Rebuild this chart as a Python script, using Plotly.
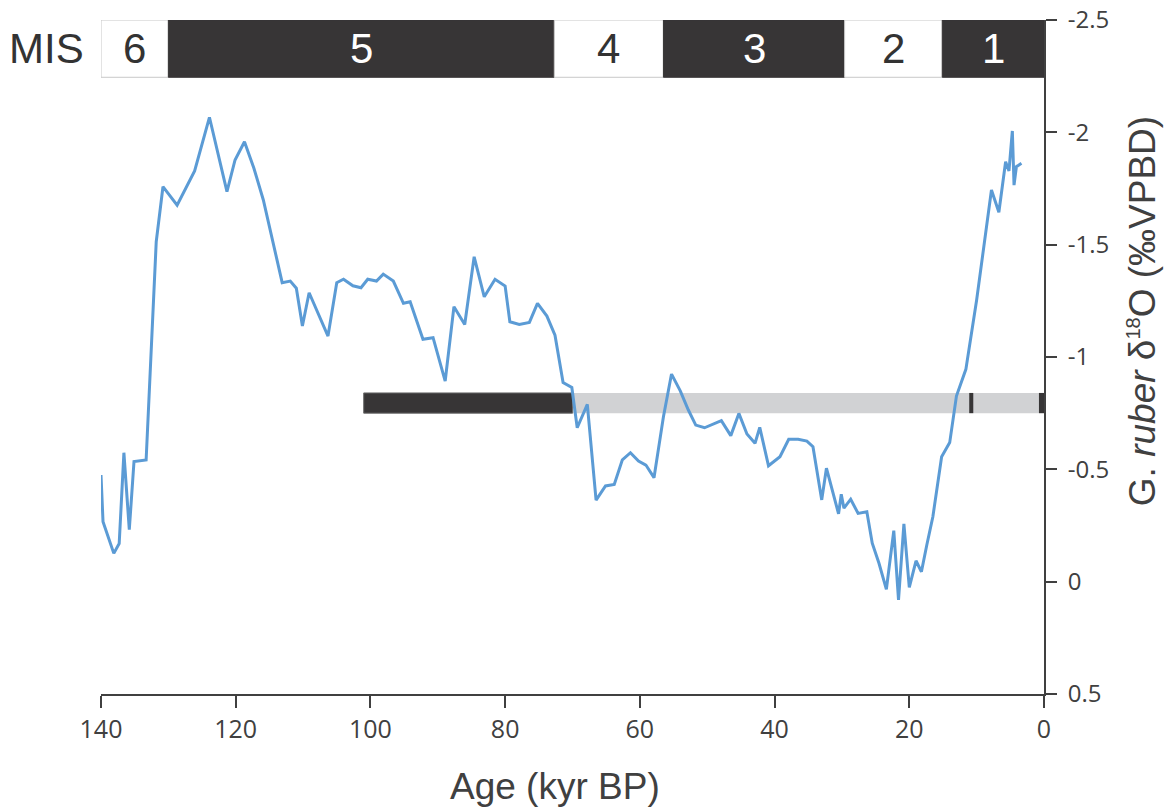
import plotly.graph_objects as go

# G. ruber d18O record (age in kyr BP, d18O in permil VPDB)
age_kyr = [140.0, 139.7, 138.1, 137.3, 136.6, 135.8, 135.1, 133.3, 131.8, 130.8,
           128.7, 126.1, 123.9, 121.3, 120.1, 118.7, 117.3, 115.9, 113.1, 111.9,
           111.0, 110.1, 109.1, 106.3, 105.0, 104.0, 102.6, 101.4, 100.4, 99.1,
           98.1, 96.6, 95.1, 94.1, 92.2, 90.7, 88.9, 87.6, 86.0, 84.6,
           83.1, 81.5, 80.0, 79.3, 77.9, 76.4, 75.2, 73.8, 72.6, 71.4,
           70.1, 69.3, 67.8, 66.5, 65.1, 63.8, 62.6, 61.4, 60.2, 59.1,
           57.9, 56.5, 55.3, 54.0, 52.8, 51.7, 50.4, 47.9, 46.5, 45.3,
           44.1, 42.9, 42.2, 40.9, 39.2, 37.9, 36.5, 35.2, 34.3, 33.0,
           32.3, 30.5, 30.1, 29.7, 28.7, 27.6, 26.3, 25.5, 24.5, 23.4,
           22.3, 21.6, 20.8, 20.0, 19.0, 18.2, 17.4, 16.5, 15.2, 14.0,
           13.0, 11.6, 10.0, 9.0, 7.8, 6.7, 5.7, 5.2, 4.7, 4.45,
           4.1, 3.35]
d18o = [-0.475, -0.267, -0.126, -0.170, -0.574, -0.231, -0.535, -0.542, -1.513, -1.758,
        -1.676, -1.828, -2.067, -1.736, -1.877, -1.958, -1.840, -1.699, -1.331, -1.338,
        -1.306, -1.138, -1.286, -1.093, -1.331, -1.346, -1.317, -1.308, -1.346, -1.338,
        -1.369, -1.338, -1.239, -1.246, -1.079, -1.086, -0.893, -1.224, -1.145, -1.446,
        -1.268, -1.346, -1.316, -1.157, -1.145, -1.154, -1.239, -1.182, -1.097, -0.886,
        -0.864, -0.685, -0.789, -0.363, -0.426, -0.433, -0.542, -0.574, -0.537, -0.519,
        -0.463, -0.734, -0.924, -0.849, -0.764, -0.697, -0.685, -0.717, -0.650, -0.749,
        -0.657, -0.616, -0.687, -0.516, -0.556, -0.634, -0.634, -0.626, -0.601, -0.364,
        -0.505, -0.302, -0.389, -0.327, -0.367, -0.304, -0.311, -0.171, -0.082, 0.034,
        -0.227, 0.081, -0.257, 0.025, -0.093, -0.044, -0.163, -0.289, -0.556, -0.619,
        -0.826, -0.945, -1.254, -1.476, -1.743, -1.644, -1.869, -1.828, -2.006, -1.765,
        -1.847, -1.862]

# Marine isotope stages: boundaries (kyr BP) and labels
mis_bounds = [140, 130, 72.7, 56.5, 29.6, 15.1, 0]
mis_labels = ["6", "5", "4", "3", "2", "1"]
mis_dark = [False, True, False, True, False, True]

# Horizontal age-range bar: dark and light segments, plus markers
bar_dark = (101, 70)
bar_light = (70, 0)
bar_markers = [(11.1, 10.5), (0.75, 0.0)]
bar_level = (-0.84, -0.75)

x_ticks = [140, 120, 100, 80, 60, 40, 20, 0]
y_ticks = [-2.5, -2, -1.5, -1, -0.5, 0, 0.5]
y_ticktext = ["-2.5", "-2", "-1.5", "-1", "-0.5", "0", "0.5"]

DARK = "#373536"
AXIS = "#404040"

fig = go.Figure()
fig.add_trace(go.Scatter(
    x=age_kyr, y=d18o, mode="lines",
    line=dict(color="#5B9BD5", width=3),
    showlegend=False, hoverinfo="skip", cliponaxis=False,
))

shapes = []
# MIS strip along the top
for i, lab in enumerate(mis_labels):
    x0, x1 = mis_bounds[i], mis_bounds[i + 1]
    fill = DARK if mis_dark[i] else "white"
    shapes.append(dict(type="rect", xref="x", yref="y", x0=x0, x1=x1,
                       y0=-2.5, y1=-2.245, fillcolor=fill,
                       line=dict(color=DARK if mis_dark[i] else "#c8c8c8", width=1),
                       layer="above"))
# Age-range bar
shapes.append(dict(type="rect", xref="x", yref="y", x0=bar_light[0], x1=bar_light[1],
                   y0=bar_level[0], y1=bar_level[1], fillcolor="#d1d2d4",
                   line=dict(width=0), layer="below"))
shapes.append(dict(type="rect", xref="x", yref="y", x0=bar_dark[0], x1=bar_dark[1],
                   y0=bar_level[0], y1=bar_level[1], fillcolor=DARK,
                   line=dict(color="#6a6a6a", width=1), layer="below"))
for m0, m1 in bar_markers:
    shapes.append(dict(type="rect", xref="x", yref="y", x0=m0, x1=m1,
                       y0=bar_level[0], y1=bar_level[1], fillcolor=DARK,
                       line=dict(width=0), layer="below"))

annotations = []
for i, lab in enumerate(mis_labels):
    xc = (mis_bounds[i] + mis_bounds[i + 1]) / 2
    annotations.append(dict(x=xc, y=-2.3725, xref="x", yref="y", text=lab,
                            showarrow=False,
                            font=dict(family="Liberation Sans", size=42,
                                      color="white" if mis_dark[i] else "#333333")))
annotations.append(dict(x=-0.058, y=-2.3725, xref="paper", yref="y", text="MIS",
                        showarrow=False, xanchor="center",
                        font=dict(family="Liberation Sans", size=42, color="#333333")))
annotations.append(dict(x=0.4815, y=-0.137, xref="paper", yref="paper",
                        text="Age (kyr BP)", showarrow=False,
                        xanchor="center", yanchor="middle",
                        font=dict(family="Liberation Sans", size=37, color="#404040")))
annotations.append(dict(x=1.105, y=0.568, xref="paper", yref="paper",
                        text="G. <i>ruber</i> δ<sup><span style='font-size:20px'>18</span></sup>O (‰VPBD)",
                        showarrow=False, textangle=-90,
                        xanchor="center", yanchor="middle",
                        font=dict(family="Liberation Sans", size=37, color="#404040")))

fig.update_layout(
    width=1170, height=812,
    margin=dict(l=101, r=126, t=20, b=118, pad=0),
    paper_bgcolor="white", plot_bgcolor="white",
    shapes=shapes, annotations=annotations,
    xaxis=dict(range=[140, 0], tickvals=x_ticks, showgrid=False, zeroline=False,
               automargin=False,
               showline=True, linecolor=AXIS, linewidth=2,
               ticks="outside", ticklen=12, tickwidth=2, tickcolor=AXIS,
               tickfont=dict(family="Open Sans", size=25, color=AXIS)),
    yaxis=dict(range=[0.5, -2.5], side="right", tickvals=y_ticks, ticktext=y_ticktext,
               showgrid=False, zeroline=False, automargin=False,
               showline=True, linecolor=AXIS, linewidth=2,
               ticks="outside", ticklen=11, tickwidth=2, tickcolor=AXIS,
               ticklabelstandoff=6,
               tickfont=dict(family="Open Sans", size=24, color=AXIS)),
)

fig.write_html("out.html")
